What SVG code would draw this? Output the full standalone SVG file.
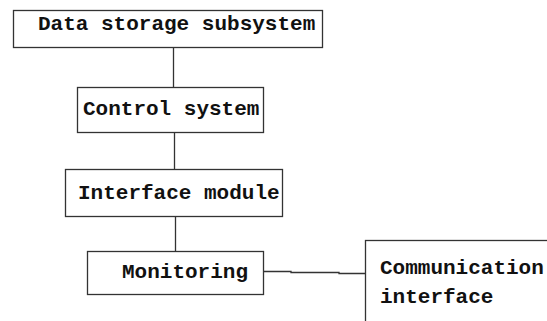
<svg xmlns="http://www.w3.org/2000/svg" width="547" height="321" viewBox="0 0 547 321">
  <style>
    .box { fill: #ffffff; stroke: #333333; stroke-width: 1.3; }
    .link { fill: none; stroke: #333333; stroke-width: 1.3; }
    .label { font-family: "Liberation Mono", "DejaVu Sans Mono", monospace; font-size: 21px; font-weight: bold; fill: #111111; }
  </style>
  <rect width="547" height="321" fill="#ffffff"/>

  <!-- connectors -->
  <g id="connectors">
    <line class="link" x1="173.5" y1="47.5" x2="173.5" y2="87.5"/>
    <line class="link" x1="174.5" y1="132.5" x2="174.5" y2="169.5"/>
    <line class="link" x1="175.5" y1="216.5" x2="175.5" y2="251.5"/>
    <path class="link" d="M264 271.5 H291 V272.5 H339 V273.5 H365.5"/>
  </g>

  <g id="data-storage">
    <rect class="box" x="13.5" y="10.5" width="309" height="37"/>
    <text class="label" x="38" y="30">Data storage subsystem</text>
  </g>

  <g id="control-system">
    <rect class="box" x="77.5" y="87.5" width="186" height="45"/>
    <text class="label" x="83" y="115">Control system</text>
  </g>

  <g id="interface-module">
    <rect class="box" x="65.5" y="169.5" width="217" height="47"/>
    <text class="label" x="78" y="199">Interface module</text>
  </g>

  <g id="monitoring">
    <rect class="box" x="87.5" y="251.5" width="176" height="43"/>
    <text class="label" x="122" y="278">Monitoring</text>
  </g>

  <g id="communication-interface">
    <rect class="box" x="365.5" y="240.5" width="200" height="100"/>
    <text class="label" x="380" y="274">Communication</text>
    <text class="label" x="380" y="303">interface</text>
  </g>
</svg>
